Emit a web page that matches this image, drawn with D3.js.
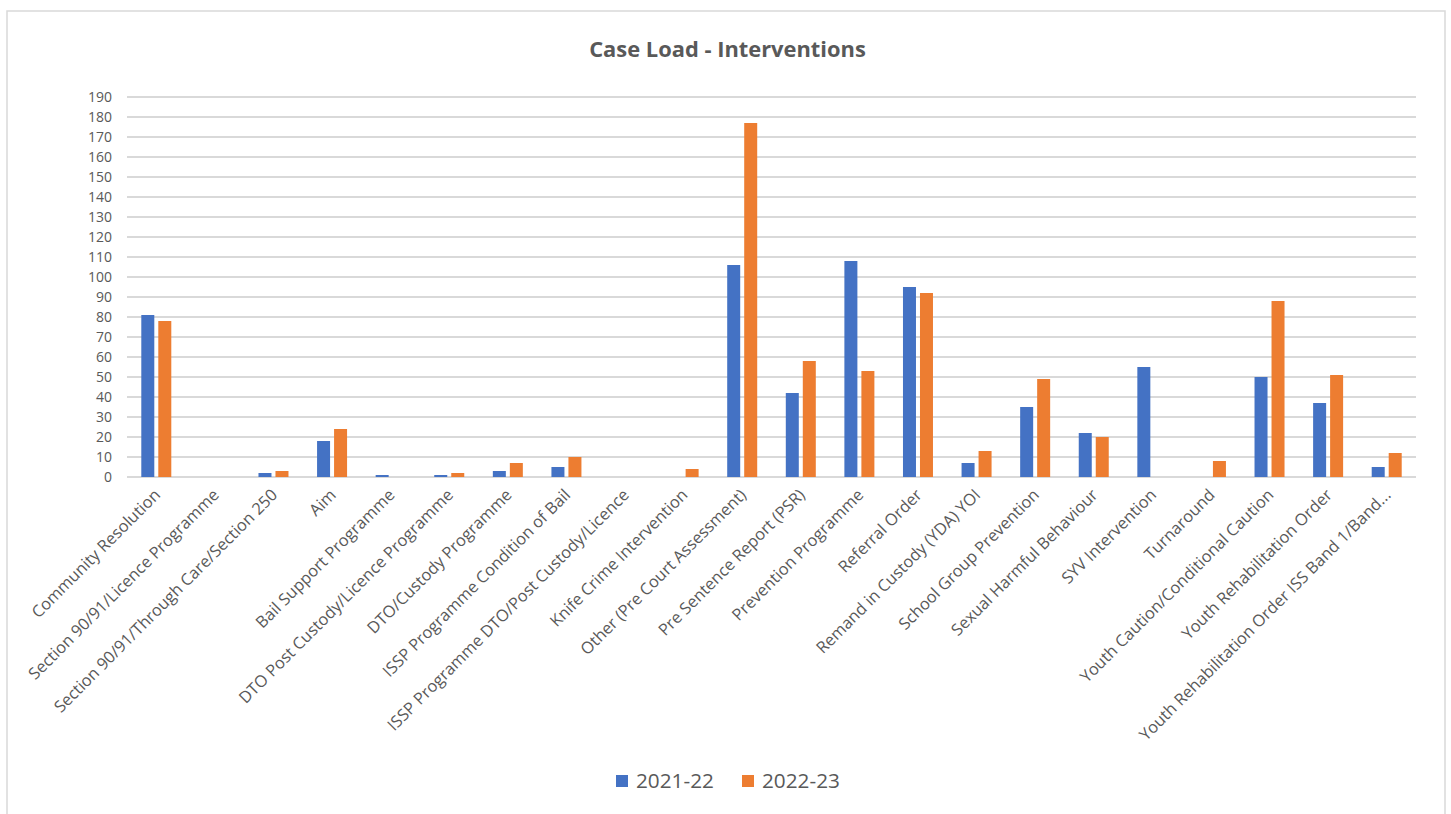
<!DOCTYPE html>
<html>
<head>
<meta charset="utf-8">
<script src="https://cdn.jsdelivr.net/npm/d3@7"></script>
<style>
  html, body { margin: 0; padding: 0; background: #fff; }
  svg { display: block; }
</style>
</head>
<body>
<svg id="chart" width="1451" height="814"></svg>
<script>
const categories = [
  "Community Resolution",
  "Section 90/91/Licence Programme",
  "Section 90/91/Through Care/Section 250",
  "Aim",
  "Bail Support Programme",
  "DTO Post Custody/Licence Programme",
  "DTO/Custody Programme",
  "ISSP Programme Condition of Bail",
  "ISSP Programme DTO/Post Custody/Licence",
  "Knife Crime Intervention",
  "Other (Pre Court Assessment)",
  "Pre Sentence Report (PSR)",
  "Prevention Programme",
  "Referral Order",
  "Remand in Custody (YDA) YOI",
  "School Group Prevention",
  "Sexual Harmful Behaviour",
  "SYV Intervention",
  "Turnaround",
  "Youth Caution/Conditional Caution",
  "Youth Rehabilitation Order",
  "Youth Rehabilitation Order ISS Band 1/Band..."
];
const seriesNames = ["2021-22", "2022-23"];
const values2021 = [81, 0, 2, 18, 1, 1, 3, 5, 0, 0, 106, 42, 108, 95, 7, 35, 22, 55, 0, 50, 37, 5];
const values2022 = [78, 0, 3, 24, 0, 2, 7, 10, 0, 4, 177, 58, 53, 92, 13, 49, 20, 0, 8, 88, 51, 12];
const yTicks = d3.range(0, 191, 10);
const colors = ["#4472C4", "#ED7D31"];
const title = "Case Load - Interventions";

const svg = d3.select("#chart");
const font = "Open Sans, Noto Sans, sans-serif";
const textColor = "#595959";

// helper: font size so that a sample string reaches a target width
function fitSize(str, target, weight) {
  const t = svg.append("text").attr("font-family", font).attr("font-size", 20)
    .attr("font-weight", weight || "normal").text(str);
  const w = t.node().getComputedTextLength();
  t.remove();
  return w > 0 ? 20 * target / w : 14;
}
const titleSize = fitSize(title, 277, "bold");
const legendSize = fitSize("2021-22", 78);
const ySize = fitSize("190", 24);
const xSize = fitSize("Community Resolution", 174);

// chart border
svg.append("rect")
  .attr("x", 7).attr("y", 11).attr("width", 1438).attr("height", 820)
  .attr("fill", "#fff").attr("stroke", "#d9d9d9").attr("stroke-width", 1.5);

const plotLeft = 127, plotRight = 1416, plotTop = 97, plotBottom = 477;

const x = d3.scaleBand().domain(categories).range([plotLeft, plotRight]).padding(0);
const y = d3.scaleLinear().domain([0, 190]).range([plotBottom, plotTop]);

// gridlines
svg.append("g").selectAll("line").data(yTicks).join("line")
  .attr("x1", plotLeft).attr("x2", plotRight)
  .attr("y1", d => y(d)).attr("y2", d => y(d))
  .attr("stroke", "#d9d9d9").attr("stroke-width", 2);

// y axis labels
const yAxis = d3.axisLeft(y).tickValues(yTicks).tickSize(0).tickPadding(15);
const ga = svg.append("g").attr("transform", `translate(${plotLeft},0)`).call(yAxis);
ga.select(".domain").remove();
ga.selectAll("text").attr("fill", textColor).attr("font-family", font).attr("font-size", ySize);

// bars
const barW = 13, innerGap = 4;
const groupW = 2 * barW + innerGap;
const sub = d3.scaleBand().domain(seriesNames).range([0, groupW]).paddingInner(innerGap / (barW + innerGap)).paddingOuter(0);
const series = [values2021, values2022];
series.forEach((vals, si) => {
  svg.append("g").selectAll("rect").data(categories).join("rect")
    .attr("x", (c) => x(c) + x.bandwidth() / 2 - groupW / 2 + sub(seriesNames[si]))
    .attr("width", sub.bandwidth())
    .attr("y", (c, i) => y(vals[i]))
    .attr("height", (c, i) => y(0) - y(vals[i]))
    .attr("fill", colors[si]);
});

// x axis labels
const xAxis = d3.axisBottom(x).tickSize(0).tickPadding(0);
const gx = svg.append("g").attr("transform", `translate(0,${plotBottom})`).call(xAxis);
gx.select(".domain").remove();
gx.selectAll("text")
  .attr("fill", textColor).attr("font-family", font).attr("font-size", xSize)
  .attr("text-anchor", "end")
  .attr("dy", null).attr("y", 0)
  .attr("transform", "translate(5,19) rotate(-45)");

// title
svg.append("text")
  .attr("x", 727.5).attr("y", 57)
  .attr("text-anchor", "middle")
  .attr("font-family", font).attr("font-weight", "bold").attr("font-size", titleSize)
  .attr("fill", textColor)
  .text(title);

// legend
const legendItems = [{name: seriesNames[0], x: 616}, {name: seriesNames[1], x: 742}];
const lg = svg.append("g");
legendItems.forEach((d, i) => {
  lg.append("rect").attr("x", d.x).attr("y", 775).attr("width", 12).attr("height", 12).attr("fill", colors[i]);
  lg.append("text").attr("x", d.x + 20).attr("y", 788)
    .attr("font-family", font).attr("font-size", legendSize).attr("fill", textColor).text(d.name);
});
</script>
</body>
</html>
